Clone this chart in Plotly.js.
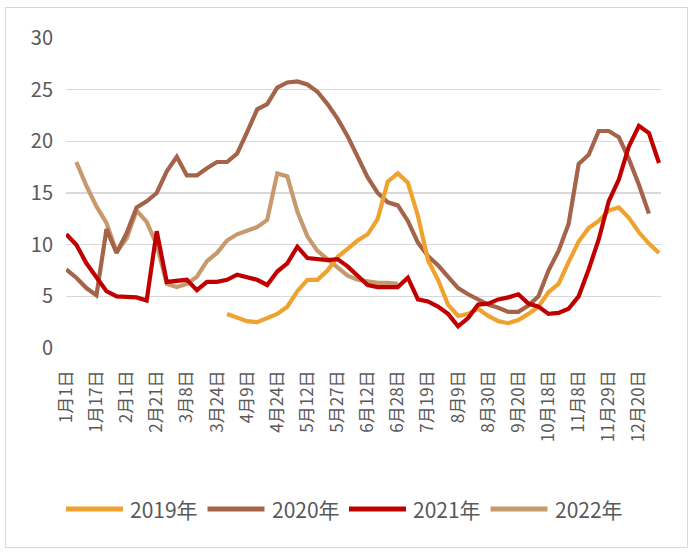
<!DOCTYPE html>
<html><head><meta charset="utf-8">
<script src="https://cdn.plot.ly/plotly-3.0.1.min.js"></script>
<style>
html,body{margin:0;padding:0;background:#fff;}
#frame{position:absolute;left:5px;top:7px;width:681px;height:539px;border:1px solid #d9d9d9;}
#chart{position:absolute;left:0;top:0;width:691px;height:552px;}
</style>
</head><body>
<div id="frame"></div>
<div id="chart"></div>
<script>
const tickLabels = ['1月1日','1月17日','2月1日','2月21日','3月8日','3月24日','4月9日','4月24日','5月12日','5月27日','6月12日','6月28日','7月19日','8月9日','8月30日','9月20日','10月18日','11月8日','11月29日','12月20日'];
const seriesNames = ['2019年','2020年','2021年','2022年'];

const v2019 = [null,null,null,null,null,null,null,null,null,null,
  null,null,null,null,null,null,3.3,3.0,2.6,2.5,
  2.9,3.3,4.0,5.5,6.6,6.6,7.5,8.8,9.6,10.4,
  11.0,12.5,16.1,16.9,16.0,12.8,8.5,6.6,4.2,3.1,
  3.3,3.8,3.1,2.6,2.4,2.7,3.3,4.0,5.4,6.2,
  8.3,10.3,11.6,12.3,13.3,13.6,12.6,11.2,10.1,9.2];
const v2020 = [7.6,6.8,5.8,5.1,11.5,9.2,11.1,13.6,14.2,15.0,
  17.1,18.5,16.7,16.7,17.4,18.0,18.0,18.8,20.9,23.1,
  23.6,25.2,25.7,25.8,25.5,24.8,23.6,22.2,20.5,18.5,
  16.5,15.0,14.1,13.8,12.3,10.2,8.9,8.0,6.9,5.8,
  5.2,4.7,4.2,3.9,3.5,3.5,4.1,5.0,7.5,9.4,
  12.0,17.8,18.7,21.0,21.0,20.4,18.3,15.8,13.0,null];
const v2021 = [11.0,10.0,8.2,6.8,5.5,5.0,5.0,4.9,4.6,11.3,
  6.4,6.5,6.6,5.6,6.4,6.4,6.6,7.1,6.9,6.6,
  6.1,7.4,8.2,9.8,8.7,8.6,8.5,8.6,7.9,7.0,
  6.1,5.9,5.9,5.9,6.8,4.7,4.5,4.0,3.3,2.1,
  2.9,4.2,4.3,4.7,4.9,5.2,4.3,4.0,3.3,3.4,
  3.8,5.0,7.6,10.5,14.2,16.3,19.5,21.5,20.8,17.9];
const v2022 = [null,18.0,15.7,13.7,12.1,9.3,10.6,13.3,12.2,10.0,
  6.2,5.9,6.2,6.9,8.4,9.2,10.4,11.0,11.3,11.7,
  12.4,16.9,16.6,13.2,10.8,9.4,8.6,7.8,7.0,6.6,
  6.4,6.3,6.3,6.2];

const colors = ['#f0a22e','#a5634a','#c00000','#c69a6d'];
const values = [v2019, v2020, v2021, v2022];
const xIdx = v2021.map((_, i) => i);

const traces = values.map((vals, s) => ({
  type: 'scatter', mode: 'lines', name: seriesNames[s],
  x: xIdx.slice(0, vals.length), y: vals,
  line: {color: colors[s], width: 4.2, shape: 'linear'},
  connectgaps: false, hoverinfo: 'skip', showlegend: false
}));
const ordered = [traces[3], traces[1], traces[0], traces[2]];

const font = "'Noto Sans CJK SC', 'Noto Sans', sans-serif";
const W = 691, H = 552, M = {l: 66, r: 30, t: 38, b: 204};
const pw = W - M.l - M.r, ph = H - M.t - M.b;
const px2x = px => (px - M.l) / pw;
const py2y = py => (H - M.b - py) / ph;

// legend (line swatch + label per series)
const legY = py2y(509), legStart = 66, legStep = 141.5, swatch = 57;
const shapes = seriesNames.map((_, s) => ({
  type: 'line', xref: 'paper', yref: 'paper', layer: 'above',
  x0: px2x(legStart + s * legStep), x1: px2x(legStart + s * legStep + swatch),
  y0: legY, y1: legY, line: {color: colors[s], width: 5}
}));
const annotations = seriesNames.map((n, s) => ({
  xref: 'paper', yref: 'paper', x: px2x(legStart + s * legStep + swatch + 5), y: legY,
  xanchor: 'left', yanchor: 'middle', text: n, showarrow: false,
  font: {size: 21, color: '#595959', family: font}
}));

const layout = {
  width: W, height: H,
  margin: {l: M.l, r: M.r, t: M.t, b: M.b, pad: 0},
  paper_bgcolor: 'rgba(0,0,0,0)', plot_bgcolor: 'rgba(0,0,0,0)',
  font: {family: font, color: '#595959'},
  showlegend: false,
  shapes: shapes, annotations: annotations,
  xaxis: {
    type: 'linear', range: [-0.03, 59.2],
    tickmode: 'array', tickvals: tickLabels.map((_, k) => 3 * k), ticktext: tickLabels,
    tickangle: -90, tickfont: {size: 17, color: '#595959', family: font},
    showgrid: false, zeroline: false, showline: false, ticks: '', ticklabelstandoff: 18, fixedrange: true
  },
  yaxis: {
    range: [0, 30], tickvals: [0,5,10,15,20,25,30],
    tickfont: {size: 20, color: '#595959', family: font},
    showgrid: true, gridcolor: '#d9d9d9', gridwidth: 1.3,
    zeroline: false, showline: false, ticks: '', ticklabelstandoff: 12, fixedrange: true
  }
};
Plotly.newPlot('chart', ordered, layout, {staticPlot: true, displayModeBar: false});
</script>
</body></html>
